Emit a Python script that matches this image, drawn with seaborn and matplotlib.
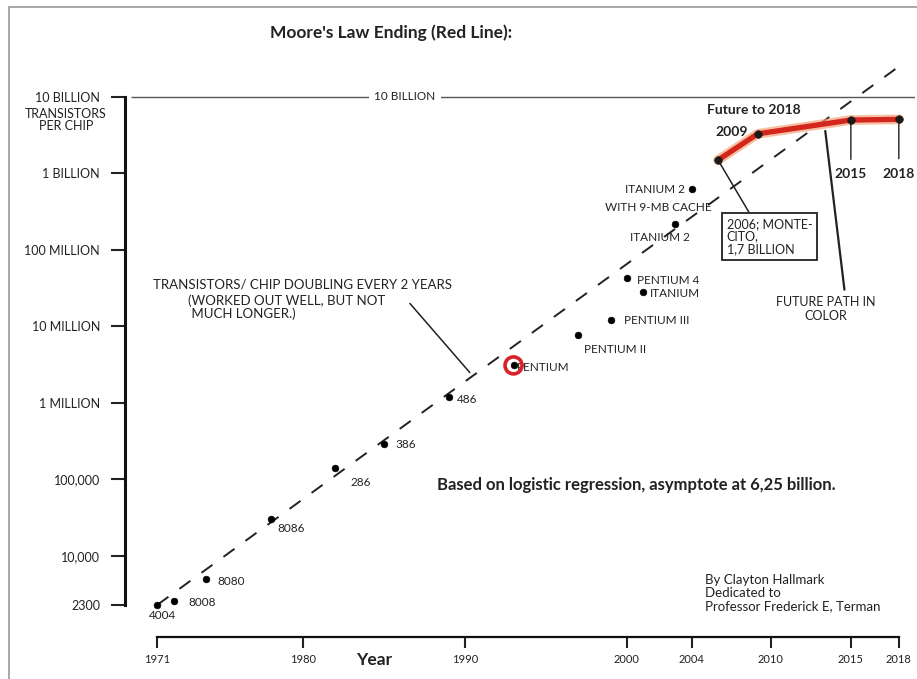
import numpy as np
import pandas as pd
import matplotlib
matplotlib.use('Agg')
import matplotlib.pyplot as plt
import seaborn as sns
from matplotlib.lines import Line2D

# ---------------------------------------------------------------------------
# data
# ---------------------------------------------------------------------------
chip_names = ['4004', '8008', '8080', '8086', '286', '386', '486', 'PENTIUM',
              'PENTIUM II', 'PENTIUM III', 'PENTIUM 4', 'ITANIUM', 'ITANIUM 2',
              'ITANIUM 2 9MB']
chip_years = [1971, 1972, 1974, 1978, 1982, 1985, 1989, 1993,
              1997, 1999, 2000, 2001, 2003, 2004]
chip_transistors = [2300, 2600, 5000, 30000, 140000, 290000, 1.2e6, 3.1e6,
                    7.7e6, 1.2e7, 4.3e7, 2.8e7, 2.2e8, 6.3e8]

future_years = [2006, 2009, 2015, 2018]
future_transistors = [1.5e9, 3.3e9, 5.0e9, 5.1e9]

trend_years = [1971, 2018]
trend_transistors = [2300, 2.5e10]

ytick_values = [2300, 1e4, 1e5, 1e6, 1e7, 1e8, 1e9, 1e10]
ytick_labels = ['2300', '10,000', '100,000', '1 MILLION', '10 MILLION',
                '100 MILLION', '1 BILLION', '10 BILLION']
xtick_years = [1971, 1980, 1990, 2000, 2004, 2010, 2015, 2018]

# the hand-drawn year axis is squeezed between 2004 and 2010
axis_years = [1900, 1971, 2004, 2010, 2018, 2100]
axis_pos = [-71.0, 0.0, 33.0, 37.9, 45.8, 127.8]

chips = pd.DataFrame({'name': chip_names, 'year': chip_years,
                      'transistors': chip_transistors})
future = pd.DataFrame({'year': future_years, 'transistors': future_transistors})
trend = pd.DataFrame({'year': trend_years, 'transistors': trend_transistors})

# label placement (offset points, alignment) per chip
label_text = {'ITANIUM 2 9MB': 'ITANIUM 2'}
label_style = {
    '4004': (3.6, -8, 'center'),
    '8008': (11, -1.5, 'left'),
    '8080': (8, -2, 'left'),
    '8086': (5, -6.5, 'left'),
    '286': (11, -10, 'left'),
    '386': (8.5, 0, 'left'),
    '486': (6, -1.5, 'left'),
    'PENTIUM': (2.5, -1.5, 'left'),
    'PENTIUM II': (4.3, -10, 'left'),
    'PENTIUM III': (9.4, 0, 'left'),
    'PENTIUM 4': (7, -1.5, 'left'),
    'ITANIUM': (5, -0.7, 'left'),
    'ITANIUM 2': (-11.5, -10, 'center'),
    'ITANIUM 2 9MB': (-5, -0.7, 'right'),
}

sns.set_theme(style='white')
plt.rcParams['font.family'] = ['Lato', 'DejaVu Sans']

W, H = 917, 679
fig = plt.figure(figsize=(W / 100, H / 100), dpi=100)
ax = fig.add_axes([125 / W, 1 - 637 / H, (915 - 125) / W, (637 - 40) / H])
ax.set_facecolor('white')


def fwd(x):
    return np.interp(x, axis_years, axis_pos)


def inv(p):
    return np.interp(p, axis_pos, axis_years)


ax.set_xscale('function', functions=(fwd, inv))
ax.set_yscale('log')
ax.set_xlim(1969.0, 2019.0)
ax.set_ylim(873, 5.56e10)

# doubling-every-2-years trend
sns.lineplot(data=trend, x='year', y='transistors', ax=ax, color='#222222',
             lw=1.4, zorder=2)
ax.lines[-1].set_linestyle((0, (7, 7)))

# future path (red)
sns.lineplot(data=future, x='year', y='transistors', ax=ax, color='#f6a57c',
             lw=7, alpha=0.7, zorder=3)
sns.lineplot(data=future, x='year', y='transistors', ax=ax, color='#d3261c',
             lw=3.8, zorder=3)
sns.scatterplot(data=future, x='year', y='transistors', ax=ax, color='#1a1a1a',
                s=30, edgecolor='#1a1a1a', zorder=5)

# chips
sns.scatterplot(data=chips, x='year', y='transistors', ax=ax, color='black',
                s=24, edgecolor='black', zorder=4)
pent = chips[chips['name'] == 'PENTIUM']
ax.scatter(pent['year'], pent['transistors'], s=150, facecolors='none',
           edgecolors='#d8222a', linewidths=2.6, zorder=4)

for name, yr, val in zip(chip_names, chip_years, chip_transistors):
    dx, dy, ha = label_style[name]
    ax.annotate(label_text.get(name, name), (yr, val), xytext=(dx, dy),
                textcoords='offset points', ha=ha, va='center', fontsize=8.5,
                color='#222222')
ax.annotate('WITH 9-MB CACHE', (2004, 6.3e8), xytext=(-24, -13.5),
            textcoords='offset points', ha='center', va='center',
            fontsize=8.5, color='#222222')

# 10 billion reference line
ax.hlines(1e10, 1969.4, 2019.0, color='#555555', lw=1.0, zorder=1)
ax.text(1986.3, 1e10, '10 BILLION', ha='center', va='center', fontsize=8.5,
        color='#222222', bbox=dict(facecolor='white', edgecolor='none', pad=4),
        zorder=2)

# future annotations
ax.text(2005.2, 6.8e9, 'Future to 2018', ha='left', va='center',
        fontsize=10, fontweight='bold', color='#222222')
ax.annotate('2009', (2009, 3.3e9), xytext=(-7, 1.5), textcoords='offset points',
            ha='right', va='center', fontsize=10, fontweight='bold',
            color='#222222')
for yr, val in zip(future_years[2:], future_transistors[2:]):
    ax.annotate(str(yr), (yr, val), xytext=(0, -39), textcoords='offset points',
                ha='center', va='center', fontsize=10, fontweight='bold',
                color='#222222',
                arrowprops=dict(arrowstyle='-', color='#222222', lw=1.0,
                                relpos=(0.5, 1.0), shrinkA=4, shrinkB=0))
ax.annotate('2006; MONTE-\nCITO,\n1,7 BILLION', (2006, 1.5e9),
            xytext=(37, -55), textcoords='offset points', ha='center',
            va='center', fontsize=9, multialignment='left', color='#222222',
            linespacing=1.05,
            bbox=dict(facecolor='white', edgecolor='#222222', lw=1.3, pad=3.5),
            arrowprops=dict(arrowstyle='-', color='#222222', lw=1.1,
                            relpos=(0.3, 1.0), shrinkA=0, shrinkB=2))
ax.annotate('FUTURE PATH IN\nCOLOR', (2013.4, 3.6e9), xytext=(0, -128),
            textcoords='offset points', ha='center', va='center', fontsize=9,
            multialignment='center', color='#222222',
            arrowprops=dict(arrowstyle='-', color='#222222', lw=1.6,
                            relpos=(0.7, 1.0), shrinkA=2, shrinkB=0))

# trend annotation
ax.text(1970.7, 3.5e7, 'TRANSISTORS/ CHIP DOUBLING EVERY 2 YEARS',
        ha='left', va='center', fontsize=9.5, color='#222222')
ax.text(1972.9, 2.6e7, '(WORKED OUT WELL, BUT NOT\n MUCH LONGER.)',
        ha='left', va='top', fontsize=9.5, color='#222222', linespacing=1.05)
ax.annotate('', xy=(1990.3, 2.5e6), xytext=(1986.6, 2.0e7),
            arrowprops=dict(arrowstyle='-', color='#222222', lw=1.1,
                            shrinkA=0, shrinkB=0))

# axes styling
ax.set_yticks(ytick_values)
ax.set_yticklabels(ytick_labels)
ax.yaxis.set_minor_locator(matplotlib.ticker.NullLocator())
ax.set_xticks(xtick_years)
ax.set_xticklabels([str(y) for y in xtick_years])
ax.xaxis.set_minor_locator(matplotlib.ticker.NullLocator())
ax.tick_params(axis='y', direction='out', length=10, width=1.5, pad=8,
               labelsize=9, colors='#222222', left=True)
ax.tick_params(axis='x', direction='out', length=8, width=1.5, pad=4,
               labelsize=8, colors='#222222', bottom=True)
ax.set_xlabel('')
ax.set_ylabel('')
for side in ['top', 'right']:
    ax.spines[side].set_visible(False)
ax.spines['left'].set_bounds(2300, 1e10)
ax.spines['left'].set_linewidth(2.2)
ax.spines['left'].set_color('#111111')
ax.spines['bottom'].set_bounds(1971, 2018)
ax.spines['bottom'].set_linewidth(1.6)
ax.spines['bottom'].set_color('#111111')

# figure-level texts
fig.text(270 / W, 1 - 33 / H, "Moore's Law Ending (Red Line):", ha='left',
         va='center', fontsize=12.5, fontweight='bold', color='#222222')
fig.text(66 / W, 1 - 120 / H, 'TRANSISTORS\nPER CHIP', ha='center',
         va='center', fontsize=9, color='#222222', linespacing=1.0)
fig.text(374 / W, 1 - 660 / H, 'Year', ha='center', va='center', fontsize=12.5,
         fontweight='bold', color='#222222')
fig.text(437 / W, 1 - 485 / H,
         'Based on logistic regression, asymptote at 6,25 billion.',
         ha='left', va='center', fontsize=12, fontweight='bold',
         color='#222222')
fig.text(705 / W, 1 - 593 / H,
         'By Clayton Hallmark\nDedicated to\nProfessor Frederick E, Terman',
         ha='left', va='center', fontsize=9.5, color='#222222',
         linespacing=1.1)

# picture frame
fig.add_artist(Line2D([9 / W, 9 / W], [0, 1 - 7 / H], transform=fig.transFigure,
                      color='#9a9a9a', lw=1.2))
fig.add_artist(Line2D([9 / W, 1], [1 - 7 / H, 1 - 7 / H],
                      transform=fig.transFigure, color='#9a9a9a', lw=1.2))

fig.savefig('out.png', dpi=100, facecolor='white')
